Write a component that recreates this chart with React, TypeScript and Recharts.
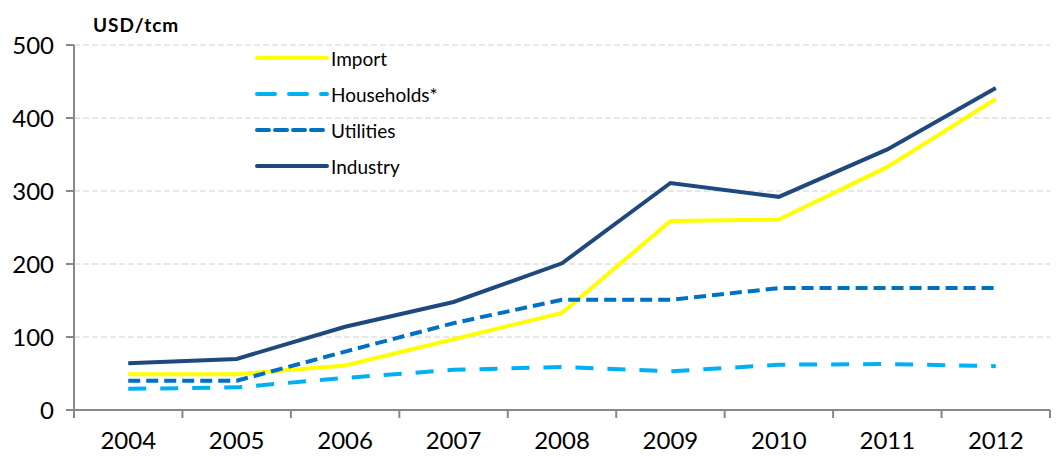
import { LineChart, Line, XAxis, YAxis, CartesianGrid } from 'recharts';

const years = [2004, 2005, 2006, 2007, 2008, 2009, 2010, 2011, 2012];
const importPrice = [49, 49, 61, 97, 133, 259, 261, 333, 426];
const households = [29, 31, 44, 55, 59, 53, 62, 63, 60];
const utilities = [40, 40, 80, 119, 151, 151, 167, 167, 167];
const industry = [64, 70, 114, 148, 201, 311, 292, 357, 441];
const yTicks = [0, 100, 200, 300, 400, 500];
const bandEdges = [2003.5, 2004.5, 2005.5, 2006.5, 2007.5, 2008.5, 2009.5, 2010.5, 2011.5, 2012.5];

const data = years.map((y, i) => ({
  year: y,
  Import: importPrice[i],
  'Households*': households[i],
  Utilities: utilities[i],
  Industry: industry[i],
}));

const series = [
  { key: 'Import', color: '#FFFF00', dash: undefined },
  { key: 'Households*', color: '#00B0F0', dash: '18 14' },
  { key: 'Utilities', color: '#0070C0', dash: '12 6' },
  { key: 'Industry', color: '#1F497D', dash: undefined },
];

const font = 'Lato, "Open Sans", sans-serif';

function LegendBox() {
  return (
    <div style={{ position: 'absolute', left: 253, top: 40, fontFamily: font, fontSize: 19, color: '#000' }}>
      {series.map(s => (
        <div key={s.key} style={{ display: 'flex', alignItems: 'center', height: 36 }}>
          <svg width={76} height={10}>
            <line x1={4} x2={74} y1={5} y2={5} stroke={s.color} strokeWidth={4}
              strokeDasharray={s.dash} strokeLinecap="round" />
          </svg>
          <span style={{ marginLeft: 2 }}>{s.key}</span>
        </div>
      ))}
    </div>
  );
}

const noTick = () => <g />;

export default function App() {
  return (
    <div style={{ position: 'absolute', left: 0, top: 0, width: 1061, height: 456, background: '#fff' }}>
      <LineChart width={1061} height={456} data={data} margin={{ top: 45, right: 11, left: 0, bottom: 0 }}>
        <CartesianGrid vertical={false} stroke="#d0d0d0" strokeDasharray="6 3" />
        <XAxis xAxisId="labels" type="number" dataKey="year" domain={[2003.5, 2012.5]} ticks={years}
          axisLine={false} tickLine={false} tickSize={0} tickMargin={21} height={45}
          tick={{ fill: '#000', fontSize: 24, fontFamily: font }} />
        <XAxis xAxisId="edges" type="number" dataKey="year" domain={[2003.5, 2012.5]} ticks={bandEdges}
          tick={noTick} tickSize={8} height={1} stroke="#888" strokeWidth={2} />
        <YAxis width={74} domain={[0, 500]} ticks={yTicks} tickSize={8} tickMargin={12}
          stroke="#888" strokeWidth={2} tick={{ fill: '#000', fontSize: 24, fontFamily: font }} />
        <Line xAxisId="labels" dataKey="Import" stroke="none" dot={false} legendType="none"
          isAnimationActive={false} />
        {series.map(s => (
          <Line key={s.key} xAxisId="edges" type="linear" dataKey={s.key} stroke={s.color} strokeWidth={4}
            strokeDasharray={s.dash} dot={false} isAnimationActive={false} />
        ))}
      </LineChart>
      <div style={{ position: 'absolute', left: 93, top: 13, fontFamily: font, fontWeight: 700, fontSize: 19, letterSpacing: 1 }}>
        USD/tcm
      </div>
      <LegendBox />
    </div>
  );
}
